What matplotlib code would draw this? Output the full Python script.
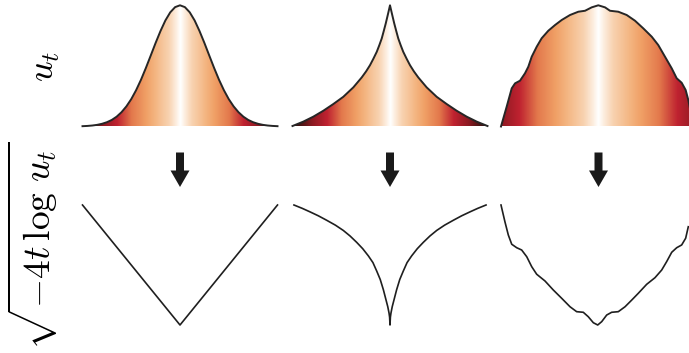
import numpy as np
import matplotlib
from matplotlib import pyplot as plt
from matplotlib.colors import LinearSegmentedColormap
from matplotlib.patches import FancyArrow

matplotlib.use('Agg')
plt.rcParams['mathtext.fontset'] = 'cm'

# --- profiles u_t (top row), normalised x in [-1, 1] ---
gauss_x = np.linspace(-1, 1, 41)
gauss_u = [0.0026, 0.0047, 0.0081, 0.0136, 0.0223, 0.0353, 0.054, 0.081, 0.118, 0.166,
           0.226, 0.300, 0.386, 0.483, 0.586, 0.690, 0.788, 0.875, 0.942, 0.985,
           1.0,
           0.985, 0.942, 0.875, 0.788, 0.690, 0.586, 0.483, 0.386, 0.300, 0.226,
           0.166, 0.118, 0.081, 0.054, 0.0353, 0.0223, 0.0136, 0.0081, 0.0047, 0.0026]

cusp_x = [-1.0, -0.89, -0.787, -0.684, -0.582, -0.479, -0.376, -0.29, -0.245, -0.205,
          -0.17, -0.136, -0.11, -0.085, -0.065, -0.044, -0.02, -0.01, 0.0,
          0.01, 0.02, 0.044, 0.065, 0.085, 0.11, 0.136, 0.17, 0.205, 0.245,
          0.29, 0.376, 0.479, 0.582, 0.684, 0.787, 0.89, 1.0]
cusp_u = [0.004, 0.040, 0.081, 0.130, 0.185, 0.245, 0.323, 0.405, 0.455, 0.506,
          0.56, 0.616, 0.67, 0.726, 0.785, 0.849, 0.93, 0.965, 1.0,
          0.965, 0.93, 0.849, 0.785, 0.726, 0.67, 0.616, 0.56, 0.506, 0.455,
          0.405, 0.323, 0.245, 0.185, 0.130, 0.081, 0.040, 0.004]

noisy_x = [-1.0, -0.942, -0.89, -0.856, -0.805, -0.754, -0.72, -0.685, -0.634, -0.583,
           -0.515, -0.446, -0.377, -0.292, -0.207, -0.138, -0.07, -0.002, 0.067, 0.118,
           0.203, 0.289, 0.374, 0.459, 0.546, 0.613, 0.682, 0.751, 0.802, 0.853,
           0.894, 0.921, 0.95]
noisy_u = [0.0, 0.163, 0.315, 0.356, 0.378, 0.439, 0.493, 0.576, 0.658, 0.728,
           0.790, 0.837, 0.879, 0.920, 0.947, 0.955, 0.983, 1.0, 0.983, 0.955,
           0.947, 0.920, 0.873, 0.810, 0.741, 0.672, 0.576, 0.480, 0.398, 0.361,
           0.301, 0.219, 0.10]

# --- sqrt(-4t log u_t) (bottom row), scaled to [0, 1] ---
gauss_vx = [-1.0, 0.0, 1.0]
gauss_v = [1.0, 0.0, 1.0]

cusp_vx = [-0.985, -0.90, -0.821, -0.735, -0.65, -0.56, -0.479, -0.41, -0.342, -0.28,
           -0.222, -0.175, -0.136, -0.10, -0.068, -0.023, -0.01, -0.004, 0.0,
           0.004, 0.01, 0.023, 0.068, 0.10, 0.136, 0.175, 0.222, 0.28, 0.342,
           0.41, 0.479, 0.56, 0.65, 0.735, 0.821, 0.90, 0.985]
cusp_v = [1.0, 0.972, 0.943, 0.91, 0.873, 0.832, 0.788, 0.742, 0.689, 0.636,
          0.576, 0.52, 0.449, 0.379, 0.294, 0.153, 0.10, 0.065, 0.0,
          0.065, 0.10, 0.153, 0.294, 0.379, 0.449, 0.52, 0.576, 0.636, 0.689,
          0.742, 0.788, 0.832, 0.873, 0.91, 0.943, 0.972, 1.0]

noisy_vx = [-1.0, -0.959, -0.925, -0.89, -0.839, -0.788, -0.736, -0.685, -0.634, -0.549,
            -0.464, -0.377, -0.292, -0.224, -0.156, -0.105, -0.053, -0.008, 0.033, 0.084,
            0.135, 0.203, 0.272, 0.341, 0.408, 0.494, 0.579, 0.648, 0.699, 0.751,
            0.802, 0.853, 0.894, 0.921]
noisy_v = [1.0, 0.858, 0.75, 0.673, 0.644, 0.625, 0.569, 0.486, 0.423, 0.367,
           0.292, 0.222, 0.152, 0.111, 0.106, 0.069, 0.019, 0.0, 0.028, 0.083,
           0.106, 0.111, 0.152, 0.208, 0.264, 0.339, 0.394, 0.458, 0.528, 0.606,
           0.644, 0.667, 0.723, 0.819]

profiles = [(gauss_x, gauss_u, gauss_vx, gauss_v, 1.0),
            (cusp_x, cusp_u, cusp_vx, cusp_v, 1.0),
            (noisy_x, noisy_u, noisy_vx, noisy_v, 1.25)]

heat = LinearSegmentedColormap.from_list('heat', [
    (0.0, '#ffffff'), (0.04, '#fdeee0'), (0.12, '#f8d2b0'), (0.25, '#f4b784'),
    (0.35, '#f0a066'), (0.5, '#e3794c'), (0.65, '#bf2230'), (0.8, '#8e1a22'),
    (0.92, '#4a1515'), (1.0, '#2a1010')])

W, H = 689, 353
fig = plt.figure(figsize=(W / 100, H / 100), dpi=100)

lefts = [82.5, 292.5, 501.0]
width = 195.0
cols = np.linspace(-1, 1, 500)

for left, (x, u, vx, v, spread) in zip(lefts, profiles):
    # top: gradient-filled profile
    ax = fig.add_axes([left / W, 1 - 126.5 / H, width / W, 121.2 / H])
    img = ax.imshow((np.abs(cols) / spread)[None, :], extent=(-1, 1, 0, 1),
                    aspect='auto', cmap=heat, vmin=0, vmax=1,
                    interpolation='bilinear')
    # close the outline along the baseline so the gradient fills under the curve
    poly, = ax.fill(np.r_[x[0], x, x[-1]], np.r_[0, u, 0],
                    facecolor='none', edgecolor='none')
    img.set_clip_path(poly)
    ax.plot(x, u, color='#262626', lw=1.4, clip_on=False, solid_joinstyle='round')
    ax.set_xlim(-1, 1)
    ax.set_ylim(0, 1)
    ax.axis('off')

    # bottom: transformed profile
    bx = fig.add_axes([left / W, 1 - 325 / H, width / W, 120 / H])
    bx.plot(vx, v, color='#1f1f1f', lw=1.2, clip_on=False, solid_joinstyle='round')
    bx.set_xlim(-1, 1)
    bx.set_ylim(0, 1)
    bx.axis('off')

# arrows between rows, drawn in pixel coordinates
over = fig.add_axes([0, 0, 1, 1])
over.set_xlim(0, W)
over.set_ylim(H, 0)
over.axis('off')
for left in lefts:
    cx = left + width / 2
    over.add_patch(FancyArrow(cx, 152.5, 0, 34.5, width=8, head_width=19,
                              head_length=16.5, length_includes_head=True,
                              color='#1a1a1a', lw=0))

fig.text(45 / W, 1 - 66 / H, r'$u_t$', rotation=90, fontsize=26,
         ha='center', va='center')
fig.text(33 / W, 1 - 246 / H, r'$\sqrt{-4t\,\log\,u_t}$', rotation=90, fontsize=27,
         ha='center', va='center')

fig.savefig('out.png', dpi=100)
